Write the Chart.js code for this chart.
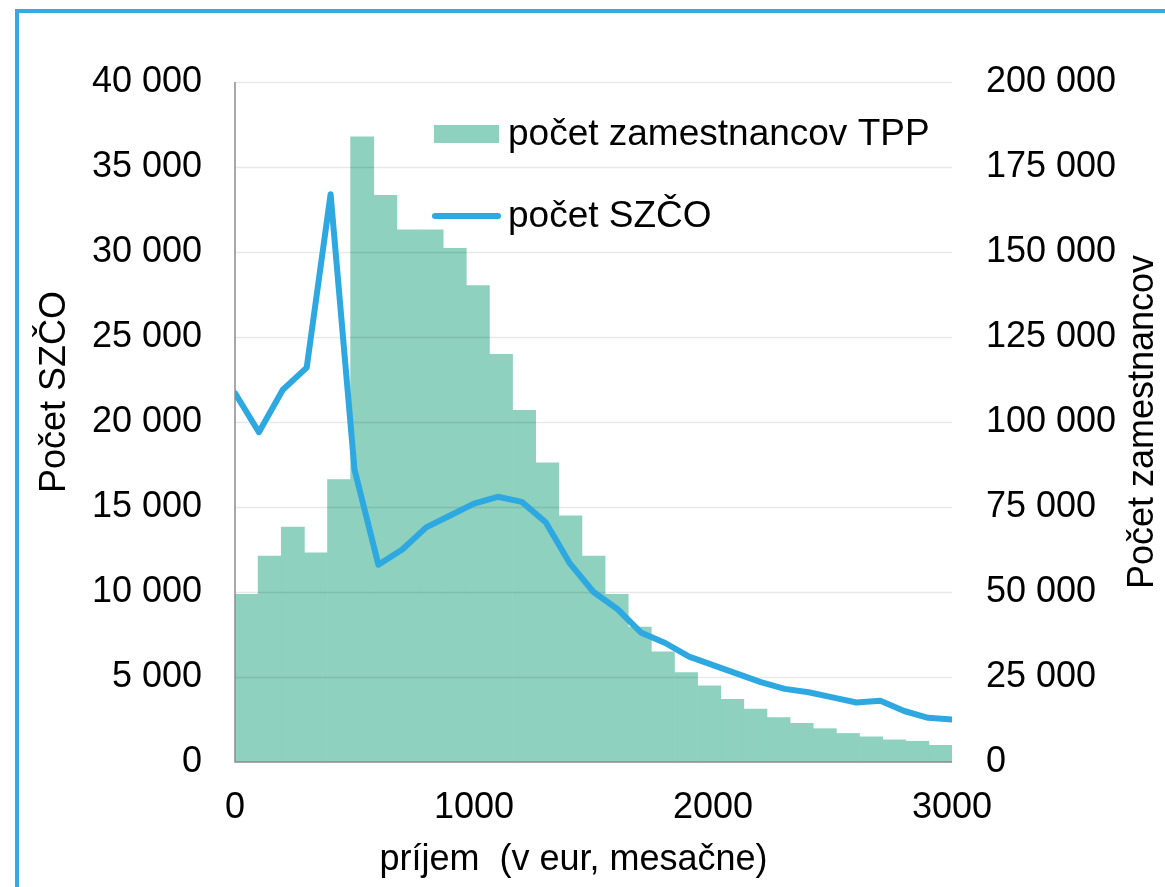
<!DOCTYPE html>
<html>
<head>
<meta charset="utf-8">
<script src="https://cdn.jsdelivr.net/npm/chart.js@4.4.1/dist/chart.umd.min.js"></script>
<style>
  html, body { margin: 0; padding: 0; background: #fff; overflow: hidden; }
  #frame { position: absolute; left: 15px; top: 9px; width: 1300px; height: 1000px; border: 4px solid #35abe2; }
  #wrap { position: absolute; left: 0; top: 0; width: 1165px; height: 887px; }
</style>
</head>
<body>
<div id="frame"></div>
<div id="wrap"><canvas id="chart"></canvas></div>
<script>
// income bins (eur / month)
const incomeBins = [0, 100, 200, 300, 400, 500, 600, 700, 800, 900, 1000,
  1100, 1200, 1300, 1400, 1500, 1600, 1700, 1800, 1900, 2000,
  2100, 2200, 2300, 2400, 2500, 2600, 2700, 2800, 2900, 3000];

// počet zamestnancov TPP (right axis)
const employees = [49300, 60600, 69100, 61500, 83100, 183900, 166700, 156500, 156500, 151100, 140100,
  119900, 103400, 88000, 72400, 60600, 49300, 39700, 32400, 26300, 22400,
  18400, 15600, 13100, 11400, 9800, 8400, 7400, 6500, 6100, 4900];

// počet SZČO (left axis)
const selfEmployed = [21700, 19400, 21900, 23200, 33400, 17200, 11600, 12500, 13800, 14500, 15200,
  15600, 15300, 14100, 11700, 10000, 9000, 7600, 7000, 6200, 5700,
  5200, 4700, 4300, 4100, 3800, 3500, 3600, 3000, 2600, 2500];

const barColor = "#8dd1be";
const lineColor = "#2ea8e0";
const gridColor = "rgba(0, 0, 0, 0.09)";
const axisColor = "#8c8c8c";
const fontFamily = "'Liberation Sans', Arial, sans-serif";
const rightTitle = "Počet zamestnancov";

function fmt(v) {
  return String(v).replace(/\B(?=(\d{3})+(?!\d))/g, " ");
}

const extras = {
  id: "extras",
  // gridlines go over the bars but under the line
  beforeDatasetDraw(chart, args) {
    if (args.index !== 1) return;
    const { ctx, chartArea } = chart;
    const y = chart.scales.y;
    ctx.save();
    ctx.lineWidth = 1.5;
    ctx.strokeStyle = gridColor;
    y.ticks.forEach(t => {
      if (t.value === 0) return;
      const py = Math.round(y.getPixelForValue(t.value)) + 0.5;
      ctx.beginPath();
      ctx.moveTo(chartArea.left, py);
      ctx.lineTo(chartArea.right, py);
      ctx.stroke();
    });
    ctx.strokeStyle = axisColor;
    ctx.beginPath();
    ctx.moveTo(chartArea.left, chartArea.top);
    ctx.lineTo(chartArea.left, chartArea.bottom);
    ctx.lineTo(chartArea.right, chartArea.bottom);
    ctx.stroke();
    ctx.restore();
  },
  // legend inside the plot + right axis title reading bottom-up
  afterDraw(chart) {
    const ctx = chart.ctx;
    const [bars, line] = chart.data.datasets;
    ctx.save();
    ctx.font = "37px " + fontFamily;
    ctx.textBaseline = "middle";

    ctx.fillStyle = bars.backgroundColor;
    ctx.fillRect(434, 125, 65, 18);
    ctx.fillStyle = "#000";
    ctx.fillText(bars.label, 508, 135);

    ctx.strokeStyle = line.borderColor;
    ctx.lineWidth = 6;
    ctx.lineCap = "round";
    ctx.beginPath();
    ctx.moveTo(435, 216);
    ctx.lineTo(498, 216);
    ctx.stroke();
    ctx.fillText(line.label, 508, 217);

    const y2 = chart.scales.y2;
    ctx.font = "36px " + fontFamily;
    ctx.textAlign = "center";
    ctx.translate(y2.right - 22, (y2.top + y2.bottom) / 2);
    ctx.rotate(-Math.PI / 2);
    ctx.fillText(rightTitle, 0, 0);
    ctx.restore();
  }
};

new Chart(document.getElementById("chart"), {
  type: "line",
  data: {
    datasets: [
      {
        type: "bar",
        label: "počet zamestnancov TPP",
        data: employees,
        backgroundColor: barColor,
        borderWidth: 0,
        grouped: false,
        barPercentage: 1,
        categoryPercentage: 1,
        xAxisID: "xb",
        yAxisID: "y2",
        order: 1
      },
      {
        type: "line",
        label: "počet SZČO",
        data: incomeBins.map((b, i) => ({ x: b, y: selfEmployed[i] })),
        borderColor: lineColor,
        borderWidth: 6,
        borderJoinStyle: "round",
        borderCapStyle: "round",
        pointRadius: 0,
        tension: 0,
        fill: false,
        xAxisID: "x",
        yAxisID: "y",
        order: 0
      }
    ]
  },
  options: {
    responsive: true,
    maintainAspectRatio: false,
    animation: false,
    layout: { padding: { top: 82, left: 0, right: 0, bottom: 0 } },
    plugins: { legend: { display: false }, tooltip: { enabled: false } },
    scales: {
      x: {
        type: "linear",
        position: "bottom",
        min: 0,
        max: 3000,
        offset: false,
        grid: { display: false, drawTicks: false },
        border: { display: false },
        ticks: {
          stepSize: 1000,
          padding: 24,
          color: "#000",
          font: { family: fontFamily, size: 36 },
          callback: v => String(v)
        },
        title: {
          display: true,
          text: "príjem  (v eur, mesačne)\u00a0\u00a0\u00a0\u00a0",
          color: "#000",
          font: { family: fontFamily, size: 36 },
          padding: { top: 0, bottom: 5 }
        },
        afterFit: s => { s.height = 125; }
      },
      xb: {
        type: "category",
        labels: incomeBins.map(String),
        display: false,
        offset: true
      },
      y: {
        position: "left",
        min: 0,
        max: 40000,
        grid: { display: false, drawTicks: false },
        border: { display: false },
        ticks: {
          stepSize: 5000,
          padding: 33,
          color: "#000",
          font: { family: fontFamily, size: 36 },
          callback: v => fmt(v)
        },
        title: {
          display: true,
          text: "\u00a0\u00a0\u00a0\u00a0\u00a0\u00a0Počet SZČO",
          color: "#000",
          font: { family: fontFamily, size: 36 },
          padding: { top: 33, bottom: 0 }
        },
        afterFit: s => { s.width = 235; }
      },
      y2: {
        position: "right",
        min: 0,
        max: 200000,
        grid: { display: false, drawTicks: false },
        border: { display: false },
        ticks: {
          stepSize: 25000,
          padding: 34,
          color: "#000",
          font: { family: fontFamily, size: 36 },
          callback: v => fmt(v)
        },
        afterFit: s => { s.width = 213; }
      }
    }
  },
  plugins: [extras]
});
</script>
</body>
</html>
